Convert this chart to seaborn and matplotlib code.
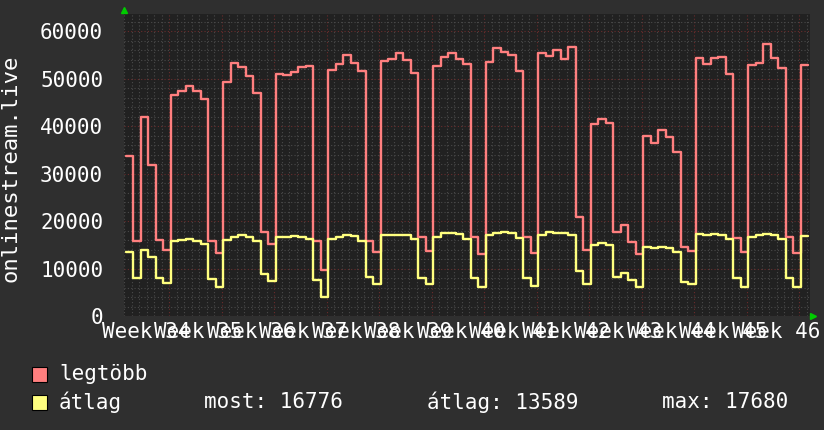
import numpy as np
import pandas as pd
import matplotlib
matplotlib.use('Agg')
import matplotlib.pyplot as plt
import matplotlib.transforms as mtransforms
from matplotlib.patches import Rectangle
import seaborn as sns

# napi értékek (ezer)
legtobb = [33.6, 15.7, 42.0, 31.7, 16.0, 14.0, 46.5, 47.4, 48.5, 47.4,
           45.7, 15.9, 13.2, 49.3, 53.2, 52.4, 50.5, 46.9, 17.6, 15.1,
           51.0, 50.7, 51.4, 52.5, 52.7, 15.9, 9.7, 51.8, 53.0, 54.9,
           53.3, 51.6, 15.9, 13.4, 53.7, 54.1, 55.3, 53.9, 51.1, 16.7,
           13.7, 52.7, 54.5, 55.3, 54.1, 53.0, 16.7, 13.0, 53.5, 56.5,
           55.6, 54.9, 51.6, 16.7, 13.2, 55.4, 54.8, 56.1, 54.2, 56.7,
           20.8, 13.9, 40.4, 41.5, 40.6, 17.6, 19.2, 15.5, 13.0, 38.0,
           36.5, 39.2, 37.6, 34.6, 14.6, 13.6, 54.4, 53.1, 54.4, 54.5,
           51.0, 16.5, 13.4, 52.8, 53.3, 57.3, 54.4, 52.3, 16.7, 13.2,
           52.8]
atlag = [13.4, 8.1, 13.9, 12.5, 8.1, 6.9, 15.7, 16.0, 16.3, 15.9,
         15.1, 7.8, 6.2, 16.0, 16.7, 17.0, 16.7, 15.8, 8.8, 7.3,
         16.6, 16.6, 16.8, 16.6, 16.3, 7.6, 4.1, 16.3, 16.7, 17.1,
         16.9, 15.9, 8.3, 6.7, 17.0, 17.1, 17.1, 17.1, 16.2, 8.1,
         6.7, 16.7, 17.4, 17.4, 17.2, 16.2, 8.1, 6.2, 17.1, 17.4,
         17.7, 17.4, 16.4, 8.1, 6.4, 17.1, 17.6, 17.4, 17.4, 17.1,
         9.4, 6.7, 15.0, 15.3, 14.9, 8.3, 9.0, 7.5, 6.2, 14.6,
         14.4, 14.6, 14.4, 13.4, 7.1, 6.7, 17.3, 17.1, 17.3, 17.1,
         16.3, 8.1, 6.2, 16.7, 17.1, 17.3, 17.0, 16.3, 8.1, 6.2,
         16.8]
weeks = [f'Week {w}' for w in range(34, 47)]
yticks = [0, 10000, 20000, 30000, 40000, 50000, 60000]
legend_names = ['legtöbb', 'átlag']
stats = ['most: 16776', 'átlag: 13589', 'max: 17680']

RED = '#ff7f7f'
YEL = '#ffff7f'
BG = '#2f2f2f'
CANVAS = '#212121'

n = len(legtobb)
x = np.arange(n + 1)
df = pd.concat([
    pd.DataFrame({'x': x, 'v': np.array(legtobb + legtobb[-1:]) * 1000, 's': legend_names[0]}),
    pd.DataFrame({'x': x, 'v': np.array(atlag + atlag[-1:]) * 1000, 's': legend_names[1]}),
])

sns.set_theme(style='dark')
plt.rcParams['font.family'] = ['DejaVu Sans Mono', 'DejaVu Sans']

fig = plt.figure(figsize=(8.24, 4.30), dpi=100, facecolor=BG)
ax = fig.add_axes([124 / 824, 114 / 430, 686 / 824, 302 / 430])
ax.set_facecolor(CANVAS)

sns.lineplot(data=df, x='x', y='v', hue='s', palette=[RED, YEL], drawstyle='steps-post',
             linewidth=1.7, legend=False, ax=ax, zorder=3)

ax.set_xlim(-0.24, 91.23)
ax.set_ylim(0, 63600)

# rács: heti (piros) és napi (szürke), y: 10000 / 2000
ax.set_xticks(5.8 + 7 * np.arange(13))
ax.set_xticks(np.arange(-0.2, 91, 1), minor=True)
ax.set_yticks(yticks)
ax.set_yticks(np.arange(0, 63600, 2000), minor=True)
ax.set_xticklabels([])
ax.grid(True, which='minor', color='#4a4a4a', linestyle=(0, (1, 2)), linewidth=0.8)
ax.grid(True, which='major', color='#6a2c2c', linestyle=(0, (1, 2)), linewidth=0.8)
ax.tick_params(axis='x', which='major', length=3, color='#8a3030', direction='out')
ax.tick_params(axis='x', which='minor', length=2, color='#555555', direction='out')
ax.tick_params(axis='y', which='both', length=0, pad=15, labelsize=15, labelcolor='white')
ax.set_yticklabels([str(t) for t in yticks])
ax.set_xlabel('')
ax.set_ylabel('')
for sp in ax.spines.values():
    sp.set_visible(False)

# hét címkék
sec = ax.secondary_xaxis('bottom')
sec.set_xticks(2.69 + 7 * np.arange(len(weeks)))
sec.set_xticklabels(weeks)
sec.tick_params(length=0, pad=4, labelsize=15, labelcolor='white')
for sp in sec.spines.values():
    sp.set_visible(False)

# zöld nyilak
ax.plot([0], [1.012], marker='^', color='#00cc00', markersize=5, transform=ax.transAxes, clip_on=False)
ax.plot([1.005], [0], marker='>', color='#00cc00', markersize=5, transform=ax.transAxes, clip_on=False)

fig.text(11 / 824, 1 - 168 / 430, 'onlinestream.live', rotation=90, ha='center', va='center',
         color='white', fontsize=16)

# jelmagyarázat
for i, (name, col) in enumerate(zip(legend_names, [RED, YEL])):
    yc = 1 - (374 + 28 * i) / 430
    fig.add_artist(Rectangle((32 / 824, yc - 8 / 430), 15 / 824, 15 / 430, transform=fig.transFigure,
                             facecolor=col, edgecolor='black', linewidth=0.8))
    fig.text(59 / 824, yc, name, color='white', fontsize=15, va='center')
for s, px in zip(stats, [204, 427, 662]):
    fig.text(px / 824, 1 - 402 / 430, s, color='white', fontsize=15, va='center')

fig.savefig('out.png', dpi=100, facecolor=BG)
